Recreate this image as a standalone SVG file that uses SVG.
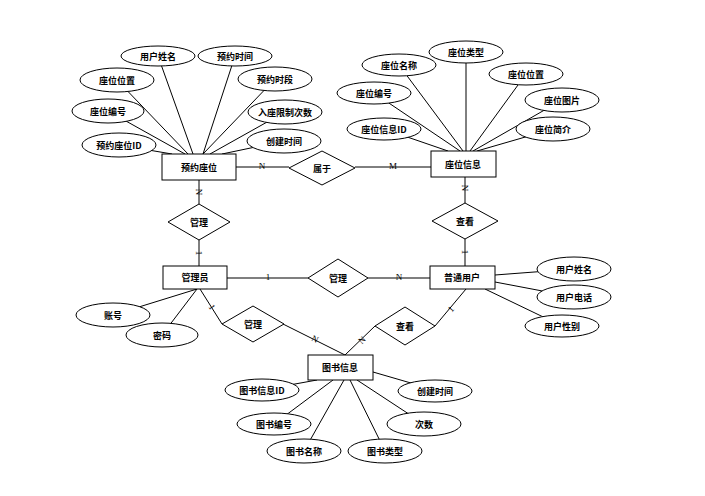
<svg xmlns="http://www.w3.org/2000/svg" width="705" height="496" viewBox="0 0 705 496">
<style>
.ent{fill:#fff;stroke:#000;stroke-width:1}
.att{fill:#fff;stroke:#000;stroke-width:1}
.rel{fill:#fff;stroke:#000;stroke-width:1}
.ln{stroke:#000;stroke-width:1;fill:none}
.lg{stroke:#555;stroke-width:1.6;fill:none}
text{font-family:"Noto Sans CJK SC","Liberation Sans",sans-serif;font-size:9px;font-weight:bold;text-anchor:middle;dominant-baseline:central;fill:#000}
.lb{font-family:"Liberation Serif",serif;font-size:9px;font-weight:normal}
</style>
<rect width="705" height="496" fill="#fff"/>
<g id="connectors">
<!-- 预约座位 attributes -->
<line class="ln" x1="158" y1="56" x2="193" y2="154"/>
<line class="ln" x1="235" y1="56" x2="203" y2="154"/>
<line class="ln" x1="117" y1="80" x2="188" y2="154"/>
<line class="ln" x1="275" y1="79" x2="203" y2="154"/>
<line class="ln" x1="108" y1="111" x2="185" y2="154"/>
<line class="ln" x1="285" y1="112" x2="210" y2="154"/>
<line class="ln" x1="119" y1="145" x2="172" y2="154"/>
<line class="ln" x1="284" y1="141" x2="222" y2="154"/>
<!-- 座位信息 attributes -->
<line class="ln" x1="466" y1="52" x2="466" y2="151"/>
<line class="ln" x1="399" y1="65" x2="463" y2="151"/>
<line class="ln" x1="526" y1="74" x2="470" y2="151"/>
<line class="ln" x1="374" y1="93" x2="460" y2="151"/>
<line class="ln" x1="562" y1="100" x2="473" y2="151"/>
<line class="ln" x1="384" y1="129" x2="448" y2="151"/>
<line class="ln" x1="553" y1="129" x2="477" y2="151"/>
<!-- relationships -->
<line class="ln" x1="236" y1="167" x2="289" y2="167"/>
<line class="ln" x1="355" y1="167" x2="431" y2="167"/>
<line class="ln" x1="199" y1="180" x2="199" y2="204"/>
<line class="ln" x1="199" y1="240" x2="199" y2="266"/>
<line class="ln" x1="465" y1="177" x2="465" y2="203"/>
<line class="ln" x1="465" y1="239" x2="465" y2="266"/>
<line class="lg" x1="227" y1="278" x2="308" y2="278"/>
<line class="lg" x1="368" y1="278" x2="430" y2="278"/>
<!-- 管理员 attributes -->
<line class="ln" x1="197" y1="289" x2="113" y2="315"/>
<line class="ln" x1="197" y1="289" x2="162" y2="335"/>
<line class="ln" x1="200" y1="289" x2="222" y2="324"/>
<line class="ln" x1="283" y1="324" x2="345" y2="355"/>
<!-- 普通用户 -->
<line class="ln" x1="495" y1="275" x2="574" y2="269"/>
<line class="ln" x1="495" y1="282" x2="574" y2="297"/>
<line class="ln" x1="485" y1="289" x2="562" y2="326"/>
<line class="ln" x1="466" y1="289" x2="435" y2="326"/>
<line class="ln" x1="375" y1="326" x2="345" y2="355"/>
<!-- 图书信息 attributes -->
<line class="ln" x1="317" y1="380" x2="262" y2="390"/>
<line class="ln" x1="333" y1="380" x2="274" y2="424"/>
<line class="ln" x1="344" y1="380" x2="304" y2="451"/>
<line class="ln" x1="350" y1="380" x2="385" y2="451"/>
<line class="ln" x1="357" y1="380" x2="424" y2="424"/>
<line class="ln" x1="373" y1="372" x2="435" y2="390"/>
<!-- cardinality labels -->
<text class="lb" x="262" y="166">N</text>
<text class="lb" x="393" y="166">M</text>
<text class="lb" x="268" y="277">1</text>
<text class="lb" x="399" y="277">N</text>
<text class="lb" transform="translate(199,192) rotate(90)">N</text>
<text class="lb" transform="translate(199,253) rotate(90)">1</text>
<text class="lb" transform="translate(465,188) rotate(90)">N</text>
<text class="lb" transform="translate(465,252) rotate(90)">1</text>
<text class="lb" transform="translate(212,307) rotate(58)">1</text>
<text class="lb" transform="translate(315,339) rotate(27)">N</text>
<text class="lb" transform="translate(451,309) rotate(-50)">1</text>
<text class="lb" transform="translate(362,340) rotate(-44)">N</text>
</g>
<g id="n_yuyue"><rect class="ent" x="162" y="154" width="74" height="26"/><text x="199" y="167">预约座位</text></g>
<g id="a_yonghu_xingming"><ellipse class="att" cx="158" cy="56" rx="37" ry="10"/><text x="158" y="56">用户姓名</text></g>
<g id="a_yuyue_shijian"><ellipse class="att" cx="235" cy="56" rx="37" ry="10"/><text x="235" y="56">预约时间</text></g>
<g id="a_zuowei_weizhi1"><ellipse class="att" cx="117" cy="80" rx="37" ry="12"/><text x="117" y="80">座位位置</text></g>
<g id="a_yuyue_shiduan"><ellipse class="att" cx="275" cy="79" rx="37" ry="12"/><text x="275" y="79">预约时段</text></g>
<g id="a_zuowei_bianhao1"><ellipse class="att" cx="108" cy="111" rx="36" ry="12"/><text x="108" y="111">座位编号</text></g>
<g id="a_ruzuo"><ellipse class="att" cx="285" cy="112" rx="37" ry="12"/><text x="285" y="112">入座限制次数</text></g>
<g id="a_yuyue_id"><ellipse class="att" cx="119" cy="145" rx="37" ry="12"/><text x="119" y="145">预约座位ID</text></g>
<g id="a_chuangjian1"><ellipse class="att" cx="284" cy="141" rx="37" ry="12"/><text x="284" y="141">创建时间</text></g>

<g id="n_zuowei"><rect class="ent" x="431" y="151" width="65" height="26"/><text x="463" y="164">座位信息</text></g>
<g id="a_zuowei_leixing"><ellipse class="att" cx="466" cy="52" rx="37" ry="11"/><text x="466" y="52">座位类型</text></g>
<g id="a_zuowei_mingcheng"><ellipse class="att" cx="399" cy="65" rx="37" ry="11"/><text x="399" y="65">座位名称</text></g>
<g id="a_zuowei_weizhi2"><ellipse class="att" cx="526" cy="74" rx="37" ry="11"/><text x="526" y="74">座位位置</text></g>
<g id="a_zuowei_bianhao2"><ellipse class="att" cx="374" cy="93" rx="37" ry="11"/><text x="374" y="93">座位编号</text></g>
<g id="a_zuowei_tupian"><ellipse class="att" cx="562" cy="100" rx="37" ry="12"/><text x="562" y="100">座位图片</text></g>
<g id="a_zuowei_id"><ellipse class="att" cx="384" cy="129" rx="37" ry="11"/><text x="384" y="129">座位信息ID</text></g>
<g id="a_zuowei_jianjie"><ellipse class="att" cx="553" cy="129" rx="37" ry="12"/><text x="553" y="129">座位简介</text></g>

<g id="r_shuyu"><polygon class="rel" points="322,151 355,168 322,185 289,168"/><text x="322" y="168">属于</text></g>
<g id="r_guanli1"><polygon class="rel" points="199,204 230,222 199,240 168,222"/><text x="199" y="222">管理</text></g>
<g id="r_chakan1"><polygon class="rel" points="465,203 498,221 465,239 432,221"/><text x="465" y="221">查看</text></g>

<g id="n_guanliyuan"><rect class="ent" x="163" y="266" width="64" height="23"/><text x="195" y="277.5">管理员</text></g>
<g id="r_guanli2"><polygon class="rel" points="338,259 368,278 338,297 308,278"/><text x="338" y="278">管理</text></g>
<g id="n_putong"><rect class="ent" x="430" y="266" width="65" height="23"/><text x="462" y="277.5">普通用户</text></g>
<g id="a_zhanghao"><ellipse class="att" cx="113" cy="315" rx="37" ry="12"/><text x="113" y="315">账号</text></g>
<g id="a_mima"><ellipse class="att" cx="162" cy="335" rx="36" ry="12"/><text x="162" y="335">密码</text></g>
<g id="a_yonghu_xingming2"><ellipse class="att" cx="574" cy="269" rx="37" ry="12"/><text x="574" y="269">用户姓名</text></g>
<g id="a_yonghu_dianhua"><ellipse class="att" cx="574" cy="297" rx="37" ry="12"/><text x="574" y="297">用户电话</text></g>
<g id="a_yonghu_xingbie"><ellipse class="att" cx="562" cy="326" rx="37" ry="11"/><text x="562" y="326">用户性别</text></g>
<g id="r_guanli3"><polygon class="rel" points="253,306 284,324 253,342 222,324"/><text x="253" y="324">管理</text></g>
<g id="r_chakan2"><polygon class="rel" points="405,307 435,326 405,345 375,326"/><text x="405" y="326">查看</text></g>

<g id="n_tushu"><rect class="ent" x="308" y="355" width="65" height="25"/><text x="340" y="367.5">图书信息</text></g>
<g id="a_tushu_id"><ellipse class="att" cx="262" cy="390" rx="37" ry="11"/><text x="262" y="390">图书信息ID</text></g>
<g id="a_chuangjian2"><ellipse class="att" cx="435" cy="391" rx="37" ry="11"/><text x="435" y="391">创建时间</text></g>
<g id="a_tushu_bianhao"><ellipse class="att" cx="274" cy="424" rx="37" ry="11"/><text x="274" y="424">图书编号</text></g>
<g id="a_cishu"><ellipse class="att" cx="424" cy="424" rx="37" ry="12"/><text x="424" y="424">次数</text></g>
<g id="a_tushu_mingcheng"><ellipse class="att" cx="304" cy="451" rx="37" ry="12"/><text x="304" y="451">图书名称</text></g>
<g id="a_tushu_leixing"><ellipse class="att" cx="385" cy="451" rx="37" ry="12"/><text x="385" y="451">图书类型</text></g>
</svg>
